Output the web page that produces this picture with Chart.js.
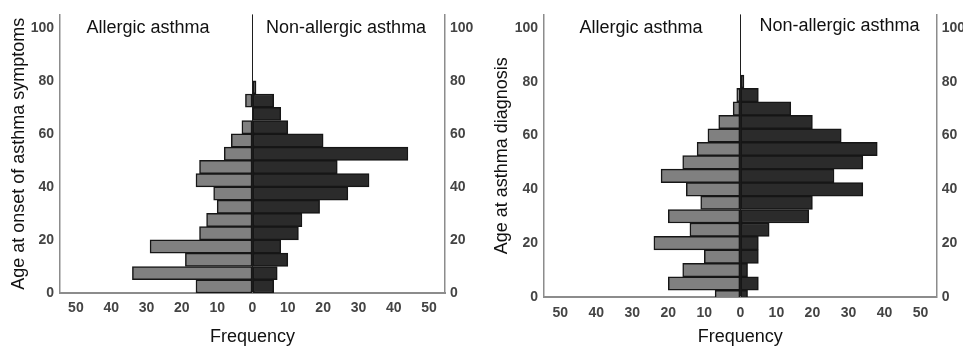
<!DOCTYPE html>
<html>
<head>
<meta charset="utf-8">
<script src="https://cdn.jsdelivr.net/npm/chart.js@4"></script>
<style>
  body { margin: 0; background: #fff; }
  #wrap { display: flex; width: 963px; height: 348px; overflow: hidden; }
  canvas { display: block; }
</style>
</head>
<body>
<div id="wrap">
  <canvas id="onset" width="480" height="348"></canvas>
  <canvas id="diagnosis" width="483" height="348"></canvas>
</div>
<script>
// age at onset of symptoms: 5-year bins (bar centres)
const onsetAges = [2.5, 7.5, 12.5, 17.5, 22.5, 27.5, 32.5, 37.5, 42.5, 47.5, 52.5, 57.5, 62.5, 67.5, 72.5, 77.5];
const onsetAllergic = [16, 34, 19, 29, 15, 13, 10, 11, 16, 15, 8, 6, 3, 0, 2, 0];
const onsetNonAllergic = [6, 7, 10, 8, 13, 14, 19, 27, 33, 24, 44, 20, 10, 8, 6, 1];

// age at diagnosis: bins centred on multiples of 5
const diagAges = [0, 5, 10, 15, 20, 25, 30, 35, 40, 45, 50, 55, 60, 65, 70, 75, 80];
const diagAllergic = [7, 20, 16, 10, 24, 14, 20, 11, 15, 22, 16, 12, 9, 6, 2, 1, 0];
const diagNonAllergic = [2, 5, 2, 5, 5, 8, 19, 20, 34, 26, 34, 38, 28, 20, 14, 5, 1];

const ageTicks = [0, 20, 40, 60, 80, 100];
const freqTicks = [-50, -40, -30, -20, -10, 0, 10, 20, 30, 40, 50];
const groupLabels = ['Allergic asthma', 'Non-allergic asthma'];

const FONT = '"Liberation Sans", Arial, sans-serif';

// writes the two group names inside the plot
const groupLabelPlugin = {
  id: 'groupLabels',
  afterDraw(chart, args, opts) {
    const { ctx, scales: { x, y } } = chart;
    ctx.save();
    ctx.font = '18px ' + FONT;
    ctx.fillStyle = '#111';
    ctx.textAlign = 'center';
    ctx.textBaseline = 'middle';
    opts.at.forEach((p, i) => {
      ctx.fillText(groupLabels[i], x.getPixelForValue(p[0]), y.getPixelForValue(p[1]));
    });
    ctx.restore();
  }
};

const barStyle = {
  barPercentage: 1,
  categoryPercentage: 1,
  borderColor: '#161616',
  borderWidth: 1.5,
  borderSkipped: false
};

function pyramid(id, ages, allergic, nonAllergic, o) {
  const tickFont = { family: FONT, size: 14, weight: 'bold' };
  const titleFont = { family: FONT, size: 18 };
  const setAgeTicks = s => { s.ticks = ageTicks.map(v => ({ value: v })); };

  return new Chart(document.getElementById(id), {
    type: 'bar',
    data: {
      datasets: [
        { ...barStyle, label: groupLabels[0], backgroundColor: '#808080',
          data: ages.map((a, i) => ({ y: a, x: -allergic[i] })) },
        { ...barStyle, label: groupLabels[1], backgroundColor: '#2b2b2b',
          data: ages.map((a, i) => ({ y: a, x: nonAllergic[i] })) }
      ]
    },
    options: {
      indexAxis: 'y',
      responsive: false,
      animation: false,
      layout: { padding: { top: o.top } },
      plugins: {
        legend: { display: false },
        tooltip: { enabled: false },
        groupLabels: { at: o.labelAt }
      },
      scales: {
        x: {
          type: 'linear', min: -54.5, max: 54.5, stacked: true, offset: false,
          afterBuildTicks: s => { s.ticks = freqTicks.map(v => ({ value: v })); },
          afterFit: s => { s.height = o.bottom; },
          grid: {
            drawTicks: false, lineWidth: 1,
            color: c => (c.tick && c.tick.value === 0 ? '#1e1e1e' : 'rgba(0,0,0,0)')
          },
          border: { color: '#8c8c8c', width: 2 },
          ticks: { padding: o.xPad, color: '#444', font: tickFont, callback: v => Math.abs(v) },
          title: { display: true, text: 'Frequency', color: '#111', font: titleFont, padding: 0 }
        },
        y: {
          type: 'linear', position: 'left', min: 0, max: 105, stacked: true, offset: false,
          afterBuildTicks: setAgeTicks,
          afterFit: s => { s.width = o.left; },
          grid: { display: false, drawTicks: false },
          border: { color: '#8c8c8c', width: 1.5 },
          ticks: { padding: 6, color: '#444', font: tickFont },
          title: { display: true, text: o.title, color: '#111', font: titleFont,
                   padding: { top: o.titlePad, bottom: 0 } }
        },
        y2: {
          type: 'linear', position: 'right', min: 0, max: 105, offset: false,
          afterBuildTicks: setAgeTicks,
          afterFit: s => { s.width = o.right; },
          grid: { display: false, drawTicks: false },
          border: { color: '#8c8c8c', width: 1.5 },
          ticks: { padding: 5, color: '#444', font: tickFont }
        }
      }
    },
    plugins: [groupLabelPlugin]
  });
}

pyramid('onset', onsetAges, onsetAllergic, onsetNonAllergic, {
  title: 'Age at onset of asthma symptoms',
  top: 13.5, bottom: 55, left: 60, right: 35, xPad: 7, titlePad: 8,
  labelAt: [[-29.6, 100], [26.5, 100]]
});

pyramid('diagnosis', diagAges, diagAllergic, diagNonAllergic, {
  title: 'Age at asthma diagnosis',
  top: 12, bottom: 51, left: 64, right: 26.3, xPad: 8, titlePad: 11,
  labelAt: [[-27.6, 100], [27.5, 100.7]]
});
</script>
</body>
</html>
